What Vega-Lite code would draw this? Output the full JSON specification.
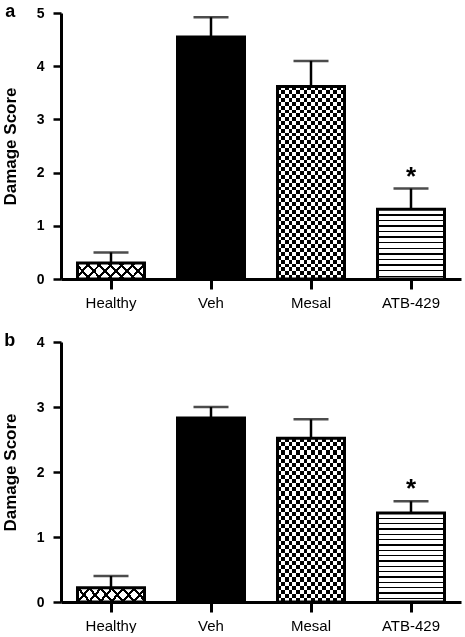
{
  "$schema": "https://vega.github.io/schema/vega-lite/v6.json",
  "padding": {"left": 1, "top": 3, "right": 2, "bottom": 0},
  "config": {
    "font": "Liberation Sans",
    "view": {"stroke": null},
    "axis": {"domainColor": "black", "tickColor": "black", "labelColor": "black", "titleColor": "black", "grid": false},
    "axisX": {"domainWidth": 3, "tickWidth": 3, "tickSize": 10, "labelPadding": 6, "labelFontSize": 15, "labelAngle": 0},
    "axisY": {"domainWidth": 3, "tickWidth": 2.5, "tickSize": 8, "labelPadding": 9, "labelFontSize": 14, "labelFontWeight": "bold", "titleFontSize": 17, "titleFontWeight": "bold", "titlePadding": 17},
    "concat": {"spacing": 22}
  },
  "data": {"values": [
    {"panel": "a", "group": "Healthy", "mean": 0.3, "upper": 0.5, "sig": null},
    {"panel": "a", "group": "Veh", "mean": 4.55, "upper": 4.92, "sig": null},
    {"panel": "a", "group": "Mesal", "mean": 3.62, "upper": 4.1, "sig": null},
    {"panel": "a", "group": "ATB-429", "mean": 1.31, "upper": 1.7, "sig": "*"},
    {"panel": "b", "group": "Healthy", "mean": 0.22, "upper": 0.4, "sig": null},
    {"panel": "b", "group": "Veh", "mean": 2.83, "upper": 3.0, "sig": null},
    {"panel": "b", "group": "Mesal", "mean": 2.52, "upper": 2.81, "sig": null},
    {"panel": "b", "group": "ATB-429", "mean": 1.37, "upper": 1.55, "sig": "*"}
  ]},
  "vconcat": [
    {
      "title": {"text": "a", "orient": "left", "angle": 0, "anchor": "end", "frame": "group", "align": "left", "baseline": "alphabetic", "fontSize": 18, "fontWeight": "bold", "offset": -14, "dy": 4, "color": "black"},
      "width": 400,
      "height": 266,
      "transform": [{"filter": "datum.panel === 'a'"}],
      "encoding": {
        "x": {"field": "group", "type": "nominal", "title": null, "scale": {"domain": ["Healthy", "Veh", "Mesal", "ATB-429"], "paddingInner": 0.33, "paddingOuter": 0.165}},
        "y": {"field": "mean", "type": "quantitative", "title": "Damage Score", "scale": {"domain": [0, 5], "nice": false}, "axis": {"values": [0, 1, 2, 3, 4, 5]}}
      },
      "layer": [
        {"transform": [{"filter": "datum.group === 'Healthy'"}], "mark": {"type": "bar", "fill": {"gradient": "linear", "x1": 0, "y1": 0, "x2": 1.267, "y2": 0.289, "stops": [{"offset":0,"color":"#000"},{"offset":0.032,"color":"#000"},{"offset":0.032,"color":"#fff"},{"offset":0.125,"color":"#fff"},{"offset":0.125,"color":"#000"},{"offset":0.157,"color":"#000"},{"offset":0.157,"color":"#fff"},{"offset":0.25,"color":"#fff"},{"offset":0.25,"color":"#000"},{"offset":0.282,"color":"#000"},{"offset":0.282,"color":"#fff"},{"offset":0.375,"color":"#fff"},{"offset":0.375,"color":"#000"},{"offset":0.407,"color":"#000"},{"offset":0.407,"color":"#fff"},{"offset":0.5,"color":"#fff"},{"offset":0.5,"color":"#000"},{"offset":0.532,"color":"#000"},{"offset":0.532,"color":"#fff"},{"offset":0.625,"color":"#fff"},{"offset":0.625,"color":"#000"},{"offset":0.657,"color":"#000"},{"offset":0.657,"color":"#fff"},{"offset":0.75,"color":"#fff"},{"offset":0.75,"color":"#000"},{"offset":0.782,"color":"#000"},{"offset":0.782,"color":"#fff"},{"offset":0.875,"color":"#fff"},{"offset":0.875,"color":"#000"},{"offset":0.907,"color":"#000"},{"offset":0.907,"color":"#fff"},{"offset":1,"color":"#fff"}]}}},
        {"transform": [{"filter": "datum.group === 'Healthy'"}], "mark": {"type": "bar", "blend": "multiply", "fill": {"gradient": "linear", "x1": 0, "y1": 1, "x2": 1.267, "y2": 0.711, "stops": [{"offset":0,"color":"#000"},{"offset":0.032,"color":"#000"},{"offset":0.032,"color":"#fff"},{"offset":0.125,"color":"#fff"},{"offset":0.125,"color":"#000"},{"offset":0.157,"color":"#000"},{"offset":0.157,"color":"#fff"},{"offset":0.25,"color":"#fff"},{"offset":0.25,"color":"#000"},{"offset":0.282,"color":"#000"},{"offset":0.282,"color":"#fff"},{"offset":0.375,"color":"#fff"},{"offset":0.375,"color":"#000"},{"offset":0.407,"color":"#000"},{"offset":0.407,"color":"#fff"},{"offset":0.5,"color":"#fff"},{"offset":0.5,"color":"#000"},{"offset":0.532,"color":"#000"},{"offset":0.532,"color":"#fff"},{"offset":0.625,"color":"#fff"},{"offset":0.625,"color":"#000"},{"offset":0.657,"color":"#000"},{"offset":0.657,"color":"#fff"},{"offset":0.75,"color":"#fff"},{"offset":0.75,"color":"#000"},{"offset":0.782,"color":"#000"},{"offset":0.782,"color":"#fff"},{"offset":0.875,"color":"#fff"},{"offset":0.875,"color":"#000"},{"offset":0.907,"color":"#000"},{"offset":0.907,"color":"#fff"},{"offset":1,"color":"#fff"}]}}},
        {"transform": [{"filter": "datum.group === 'Veh'"}], "mark": {"type": "bar", "fill": "#000"}},
        {"transform": [{"filter": "datum.group === 'Mesal'"}], "mark": {"type": "bar", "fill": {"gradient": "linear", "x1": 0, "y1": 0, "x2": 1, "y2": 0, "stops": [{"offset":0,"color":"#000"},{"offset":0.0556,"color":"#000"},{"offset":0.0556,"color":"#fff"},{"offset":0.1111,"color":"#fff"},{"offset":0.1111,"color":"#000"},{"offset":0.1667,"color":"#000"},{"offset":0.1667,"color":"#fff"},{"offset":0.2222,"color":"#fff"},{"offset":0.2222,"color":"#000"},{"offset":0.2778,"color":"#000"},{"offset":0.2778,"color":"#fff"},{"offset":0.3333,"color":"#fff"},{"offset":0.3333,"color":"#000"},{"offset":0.3889,"color":"#000"},{"offset":0.3889,"color":"#fff"},{"offset":0.4444,"color":"#fff"},{"offset":0.4444,"color":"#000"},{"offset":0.5,"color":"#000"},{"offset":0.5,"color":"#fff"},{"offset":0.5556,"color":"#fff"},{"offset":0.5556,"color":"#000"},{"offset":0.6111,"color":"#000"},{"offset":0.6111,"color":"#fff"},{"offset":0.6667,"color":"#fff"},{"offset":0.6667,"color":"#000"},{"offset":0.7222,"color":"#000"},{"offset":0.7222,"color":"#fff"},{"offset":0.7778,"color":"#fff"},{"offset":0.7778,"color":"#000"},{"offset":0.8333,"color":"#000"},{"offset":0.8333,"color":"#fff"},{"offset":0.8889,"color":"#fff"},{"offset":0.8889,"color":"#000"},{"offset":0.9444,"color":"#000"},{"offset":0.9444,"color":"#fff"},{"offset":1,"color":"#fff"}]}}},
        {"transform": [{"filter": "datum.group === 'Mesal'"}], "mark": {"type": "bar", "blend": "difference", "fill": {"gradient": "linear", "x1": 0, "y1": 0, "x2": 0, "y2": 1, "stops": [{"offset":0,"color":"#000"},{"offset":0.02,"color":"#000"},{"offset":0.02,"color":"#fff"},{"offset":0.04,"color":"#fff"},{"offset":0.04,"color":"#000"},{"offset":0.06,"color":"#000"},{"offset":0.06,"color":"#fff"},{"offset":0.08,"color":"#fff"},{"offset":0.08,"color":"#000"},{"offset":0.1,"color":"#000"},{"offset":0.1,"color":"#fff"},{"offset":0.12,"color":"#fff"},{"offset":0.12,"color":"#000"},{"offset":0.14,"color":"#000"},{"offset":0.14,"color":"#fff"},{"offset":0.16,"color":"#fff"},{"offset":0.16,"color":"#000"},{"offset":0.18,"color":"#000"},{"offset":0.18,"color":"#fff"},{"offset":0.2,"color":"#fff"},{"offset":0.2,"color":"#000"},{"offset":0.22,"color":"#000"},{"offset":0.22,"color":"#fff"},{"offset":0.24,"color":"#fff"},{"offset":0.24,"color":"#000"},{"offset":0.26,"color":"#000"},{"offset":0.26,"color":"#fff"},{"offset":0.28,"color":"#fff"},{"offset":0.28,"color":"#000"},{"offset":0.3,"color":"#000"},{"offset":0.3,"color":"#fff"},{"offset":0.32,"color":"#fff"},{"offset":0.32,"color":"#000"},{"offset":0.34,"color":"#000"},{"offset":0.34,"color":"#fff"},{"offset":0.36,"color":"#fff"},{"offset":0.36,"color":"#000"},{"offset":0.38,"color":"#000"},{"offset":0.38,"color":"#fff"},{"offset":0.4,"color":"#fff"},{"offset":0.4,"color":"#000"},{"offset":0.42,"color":"#000"},{"offset":0.42,"color":"#fff"},{"offset":0.44,"color":"#fff"},{"offset":0.44,"color":"#000"},{"offset":0.46,"color":"#000"},{"offset":0.46,"color":"#fff"},{"offset":0.48,"color":"#fff"},{"offset":0.48,"color":"#000"},{"offset":0.5,"color":"#000"},{"offset":0.5,"color":"#fff"},{"offset":0.52,"color":"#fff"},{"offset":0.52,"color":"#000"},{"offset":0.54,"color":"#000"},{"offset":0.54,"color":"#fff"},{"offset":0.56,"color":"#fff"},{"offset":0.56,"color":"#000"},{"offset":0.58,"color":"#000"},{"offset":0.58,"color":"#fff"},{"offset":0.6,"color":"#fff"},{"offset":0.6,"color":"#000"},{"offset":0.62,"color":"#000"},{"offset":0.62,"color":"#fff"},{"offset":0.64,"color":"#fff"},{"offset":0.64,"color":"#000"},{"offset":0.66,"color":"#000"},{"offset":0.66,"color":"#fff"},{"offset":0.68,"color":"#fff"},{"offset":0.68,"color":"#000"},{"offset":0.7,"color":"#000"},{"offset":0.7,"color":"#fff"},{"offset":0.72,"color":"#fff"},{"offset":0.72,"color":"#000"},{"offset":0.74,"color":"#000"},{"offset":0.74,"color":"#fff"},{"offset":0.76,"color":"#fff"},{"offset":0.76,"color":"#000"},{"offset":0.78,"color":"#000"},{"offset":0.78,"color":"#fff"},{"offset":0.8,"color":"#fff"},{"offset":0.8,"color":"#000"},{"offset":0.82,"color":"#000"},{"offset":0.82,"color":"#fff"},{"offset":0.84,"color":"#fff"},{"offset":0.84,"color":"#000"},{"offset":0.86,"color":"#000"},{"offset":0.86,"color":"#fff"},{"offset":0.88,"color":"#fff"},{"offset":0.88,"color":"#000"},{"offset":0.9,"color":"#000"},{"offset":0.9,"color":"#fff"},{"offset":0.92,"color":"#fff"},{"offset":0.92,"color":"#000"},{"offset":0.94,"color":"#000"},{"offset":0.94,"color":"#fff"},{"offset":0.96,"color":"#fff"},{"offset":0.96,"color":"#000"},{"offset":0.98,"color":"#000"},{"offset":0.98,"color":"#fff"},{"offset":1,"color":"#fff"}]}}},
        {"transform": [{"filter": "datum.group === 'ATB-429'"}], "mark": {"type": "bar", "fill": {"gradient": "linear", "x1": 0, "y1": 0, "x2": 0, "y2": 1, "stops": [{"offset":0,"color":"#fff"},{"offset":0.07,"color":"#fff"},{"offset":0.07,"color":"#000"},{"offset":0.09,"color":"#000"},{"offset":0.09,"color":"#fff"},{"offset":0.15,"color":"#fff"},{"offset":0.15,"color":"#000"},{"offset":0.17,"color":"#000"},{"offset":0.17,"color":"#fff"},{"offset":0.23,"color":"#fff"},{"offset":0.23,"color":"#000"},{"offset":0.25,"color":"#000"},{"offset":0.25,"color":"#fff"},{"offset":0.31,"color":"#fff"},{"offset":0.31,"color":"#000"},{"offset":0.33,"color":"#000"},{"offset":0.33,"color":"#fff"},{"offset":0.39,"color":"#fff"},{"offset":0.39,"color":"#000"},{"offset":0.41,"color":"#000"},{"offset":0.41,"color":"#fff"},{"offset":0.47,"color":"#fff"},{"offset":0.47,"color":"#000"},{"offset":0.49,"color":"#000"},{"offset":0.49,"color":"#fff"},{"offset":0.55,"color":"#fff"},{"offset":0.55,"color":"#000"},{"offset":0.57,"color":"#000"},{"offset":0.57,"color":"#fff"},{"offset":0.63,"color":"#fff"},{"offset":0.63,"color":"#000"},{"offset":0.65,"color":"#000"},{"offset":0.65,"color":"#fff"},{"offset":0.71,"color":"#fff"},{"offset":0.71,"color":"#000"},{"offset":0.73,"color":"#000"},{"offset":0.73,"color":"#fff"},{"offset":0.79,"color":"#fff"},{"offset":0.79,"color":"#000"},{"offset":0.81,"color":"#000"},{"offset":0.81,"color":"#fff"},{"offset":0.87,"color":"#fff"},{"offset":0.87,"color":"#000"},{"offset":0.89,"color":"#000"},{"offset":0.89,"color":"#fff"},{"offset":0.95,"color":"#fff"},{"offset":0.95,"color":"#000"},{"offset":0.97,"color":"#000"},{"offset":0.97,"color":"#fff"},{"offset":1,"color":"#fff"}]}}},
        {"mark": {"type": "bar", "fillOpacity": 0, "stroke": "#000", "strokeWidth": 3}},
        {"mark": {"type": "rule", "color": "#000", "strokeWidth": 2.5}, "encoding": {"y2": {"field": "upper"}}},
        {"mark": {"type": "tick", "color": "#000", "size": 35, "thickness": 2.5}, "encoding": {"y": {"field": "upper", "type": "quantitative", "title": "Damage Score"}}},
        {"transform": [{"filter": "datum.sig"}], "mark": {"type": "text", "fontSize": 26, "fontWeight": "bold", "baseline": "alphabetic", "dy": -4, "color": "#000"}, "encoding": {"y": {"field": "upper", "type": "quantitative", "title": "Damage Score"}, "text": {"field": "sig"}}}
      ]
    },
    {
      "title": {"text": "b", "orient": "left", "angle": 0, "anchor": "end", "frame": "group", "align": "left", "baseline": "alphabetic", "fontSize": 18, "fontWeight": "bold", "offset": -14, "dy": 4, "color": "black"},
      "width": 400,
      "height": 260,
      "transform": [{"filter": "datum.panel === 'b'"}],
      "encoding": {
        "x": {"field": "group", "type": "nominal", "title": null, "scale": {"domain": ["Healthy", "Veh", "Mesal", "ATB-429"], "paddingInner": 0.33, "paddingOuter": 0.165}},
        "y": {"field": "mean", "type": "quantitative", "title": "Damage Score", "scale": {"domain": [0, 4], "nice": false}, "axis": {"values": [0, 1, 2, 3, 4]}}
      },
      "layer": [
        {"transform": [{"filter": "datum.group === 'Healthy'"}], "mark": {"type": "bar", "fill": {"gradient": "linear", "x1": 0, "y1": 0, "x2": 1.2885, "y2": 0.2393, "stops": [{"offset":0,"color":"#000"},{"offset":0.032,"color":"#000"},{"offset":0.032,"color":"#fff"},{"offset":0.125,"color":"#fff"},{"offset":0.125,"color":"#000"},{"offset":0.157,"color":"#000"},{"offset":0.157,"color":"#fff"},{"offset":0.25,"color":"#fff"},{"offset":0.25,"color":"#000"},{"offset":0.282,"color":"#000"},{"offset":0.282,"color":"#fff"},{"offset":0.375,"color":"#fff"},{"offset":0.375,"color":"#000"},{"offset":0.407,"color":"#000"},{"offset":0.407,"color":"#fff"},{"offset":0.5,"color":"#fff"},{"offset":0.5,"color":"#000"},{"offset":0.532,"color":"#000"},{"offset":0.532,"color":"#fff"},{"offset":0.625,"color":"#fff"},{"offset":0.625,"color":"#000"},{"offset":0.657,"color":"#000"},{"offset":0.657,"color":"#fff"},{"offset":0.75,"color":"#fff"},{"offset":0.75,"color":"#000"},{"offset":0.782,"color":"#000"},{"offset":0.782,"color":"#fff"},{"offset":0.875,"color":"#fff"},{"offset":0.875,"color":"#000"},{"offset":0.907,"color":"#000"},{"offset":0.907,"color":"#fff"},{"offset":1,"color":"#fff"}]}}},
        {"transform": [{"filter": "datum.group === 'Healthy'"}], "mark": {"type": "bar", "blend": "multiply", "fill": {"gradient": "linear", "x1": 0, "y1": 1, "x2": 1.2885, "y2": 0.7607, "stops": [{"offset":0,"color":"#000"},{"offset":0.032,"color":"#000"},{"offset":0.032,"color":"#fff"},{"offset":0.125,"color":"#fff"},{"offset":0.125,"color":"#000"},{"offset":0.157,"color":"#000"},{"offset":0.157,"color":"#fff"},{"offset":0.25,"color":"#fff"},{"offset":0.25,"color":"#000"},{"offset":0.282,"color":"#000"},{"offset":0.282,"color":"#fff"},{"offset":0.375,"color":"#fff"},{"offset":0.375,"color":"#000"},{"offset":0.407,"color":"#000"},{"offset":0.407,"color":"#fff"},{"offset":0.5,"color":"#fff"},{"offset":0.5,"color":"#000"},{"offset":0.532,"color":"#000"},{"offset":0.532,"color":"#fff"},{"offset":0.625,"color":"#fff"},{"offset":0.625,"color":"#000"},{"offset":0.657,"color":"#000"},{"offset":0.657,"color":"#fff"},{"offset":0.75,"color":"#fff"},{"offset":0.75,"color":"#000"},{"offset":0.782,"color":"#000"},{"offset":0.782,"color":"#fff"},{"offset":0.875,"color":"#fff"},{"offset":0.875,"color":"#000"},{"offset":0.907,"color":"#000"},{"offset":0.907,"color":"#fff"},{"offset":1,"color":"#fff"}]}}},
        {"transform": [{"filter": "datum.group === 'Veh'"}], "mark": {"type": "bar", "fill": "#000"}},
        {"transform": [{"filter": "datum.group === 'Mesal'"}], "mark": {"type": "bar", "fill": {"gradient": "linear", "x1": 0, "y1": 0, "x2": 1, "y2": 0, "stops": [{"offset":0,"color":"#000"},{"offset":0.0556,"color":"#000"},{"offset":0.0556,"color":"#fff"},{"offset":0.1111,"color":"#fff"},{"offset":0.1111,"color":"#000"},{"offset":0.1667,"color":"#000"},{"offset":0.1667,"color":"#fff"},{"offset":0.2222,"color":"#fff"},{"offset":0.2222,"color":"#000"},{"offset":0.2778,"color":"#000"},{"offset":0.2778,"color":"#fff"},{"offset":0.3333,"color":"#fff"},{"offset":0.3333,"color":"#000"},{"offset":0.3889,"color":"#000"},{"offset":0.3889,"color":"#fff"},{"offset":0.4444,"color":"#fff"},{"offset":0.4444,"color":"#000"},{"offset":0.5,"color":"#000"},{"offset":0.5,"color":"#fff"},{"offset":0.5556,"color":"#fff"},{"offset":0.5556,"color":"#000"},{"offset":0.6111,"color":"#000"},{"offset":0.6111,"color":"#fff"},{"offset":0.6667,"color":"#fff"},{"offset":0.6667,"color":"#000"},{"offset":0.7222,"color":"#000"},{"offset":0.7222,"color":"#fff"},{"offset":0.7778,"color":"#fff"},{"offset":0.7778,"color":"#000"},{"offset":0.8333,"color":"#000"},{"offset":0.8333,"color":"#fff"},{"offset":0.8889,"color":"#fff"},{"offset":0.8889,"color":"#000"},{"offset":0.9444,"color":"#000"},{"offset":0.9444,"color":"#fff"},{"offset":1,"color":"#fff"}]}}},
        {"transform": [{"filter": "datum.group === 'Mesal'"}], "mark": {"type": "bar", "blend": "difference", "fill": {"gradient": "linear", "x1": 0, "y1": 0, "x2": 0, "y2": 1, "stops": [{"offset":0,"color":"#000"},{"offset":0.025,"color":"#000"},{"offset":0.025,"color":"#fff"},{"offset":0.05,"color":"#fff"},{"offset":0.05,"color":"#000"},{"offset":0.075,"color":"#000"},{"offset":0.075,"color":"#fff"},{"offset":0.1,"color":"#fff"},{"offset":0.1,"color":"#000"},{"offset":0.125,"color":"#000"},{"offset":0.125,"color":"#fff"},{"offset":0.15,"color":"#fff"},{"offset":0.15,"color":"#000"},{"offset":0.175,"color":"#000"},{"offset":0.175,"color":"#fff"},{"offset":0.2,"color":"#fff"},{"offset":0.2,"color":"#000"},{"offset":0.225,"color":"#000"},{"offset":0.225,"color":"#fff"},{"offset":0.25,"color":"#fff"},{"offset":0.25,"color":"#000"},{"offset":0.275,"color":"#000"},{"offset":0.275,"color":"#fff"},{"offset":0.3,"color":"#fff"},{"offset":0.3,"color":"#000"},{"offset":0.325,"color":"#000"},{"offset":0.325,"color":"#fff"},{"offset":0.35,"color":"#fff"},{"offset":0.35,"color":"#000"},{"offset":0.375,"color":"#000"},{"offset":0.375,"color":"#fff"},{"offset":0.4,"color":"#fff"},{"offset":0.4,"color":"#000"},{"offset":0.425,"color":"#000"},{"offset":0.425,"color":"#fff"},{"offset":0.45,"color":"#fff"},{"offset":0.45,"color":"#000"},{"offset":0.475,"color":"#000"},{"offset":0.475,"color":"#fff"},{"offset":0.5,"color":"#fff"},{"offset":0.5,"color":"#000"},{"offset":0.525,"color":"#000"},{"offset":0.525,"color":"#fff"},{"offset":0.55,"color":"#fff"},{"offset":0.55,"color":"#000"},{"offset":0.575,"color":"#000"},{"offset":0.575,"color":"#fff"},{"offset":0.6,"color":"#fff"},{"offset":0.6,"color":"#000"},{"offset":0.625,"color":"#000"},{"offset":0.625,"color":"#fff"},{"offset":0.65,"color":"#fff"},{"offset":0.65,"color":"#000"},{"offset":0.675,"color":"#000"},{"offset":0.675,"color":"#fff"},{"offset":0.7,"color":"#fff"},{"offset":0.7,"color":"#000"},{"offset":0.725,"color":"#000"},{"offset":0.725,"color":"#fff"},{"offset":0.75,"color":"#fff"},{"offset":0.75,"color":"#000"},{"offset":0.775,"color":"#000"},{"offset":0.775,"color":"#fff"},{"offset":0.8,"color":"#fff"},{"offset":0.8,"color":"#000"},{"offset":0.825,"color":"#000"},{"offset":0.825,"color":"#fff"},{"offset":0.85,"color":"#fff"},{"offset":0.85,"color":"#000"},{"offset":0.875,"color":"#000"},{"offset":0.875,"color":"#fff"},{"offset":0.9,"color":"#fff"},{"offset":0.9,"color":"#000"},{"offset":0.925,"color":"#000"},{"offset":0.925,"color":"#fff"},{"offset":0.95,"color":"#fff"},{"offset":0.95,"color":"#000"},{"offset":0.975,"color":"#000"},{"offset":0.975,"color":"#fff"},{"offset":1,"color":"#fff"}]}}},
        {"transform": [{"filter": "datum.group === 'ATB-429'"}], "mark": {"type": "bar", "fill": {"gradient": "linear", "x1": 0, "y1": 0, "x2": 0, "y2": 1, "stops": [{"offset":0,"color":"#fff"},{"offset":0.052,"color":"#fff"},{"offset":0.052,"color":"#000"},{"offset":0.068,"color":"#000"},{"offset":0.068,"color":"#fff"},{"offset":0.112,"color":"#fff"},{"offset":0.112,"color":"#000"},{"offset":0.128,"color":"#000"},{"offset":0.128,"color":"#fff"},{"offset":0.172,"color":"#fff"},{"offset":0.172,"color":"#000"},{"offset":0.188,"color":"#000"},{"offset":0.188,"color":"#fff"},{"offset":0.232,"color":"#fff"},{"offset":0.232,"color":"#000"},{"offset":0.248,"color":"#000"},{"offset":0.248,"color":"#fff"},{"offset":0.292,"color":"#fff"},{"offset":0.292,"color":"#000"},{"offset":0.308,"color":"#000"},{"offset":0.308,"color":"#fff"},{"offset":0.352,"color":"#fff"},{"offset":0.352,"color":"#000"},{"offset":0.368,"color":"#000"},{"offset":0.368,"color":"#fff"},{"offset":0.412,"color":"#fff"},{"offset":0.412,"color":"#000"},{"offset":0.428,"color":"#000"},{"offset":0.428,"color":"#fff"},{"offset":0.472,"color":"#fff"},{"offset":0.472,"color":"#000"},{"offset":0.488,"color":"#000"},{"offset":0.488,"color":"#fff"},{"offset":0.532,"color":"#fff"},{"offset":0.532,"color":"#000"},{"offset":0.548,"color":"#000"},{"offset":0.548,"color":"#fff"},{"offset":0.592,"color":"#fff"},{"offset":0.592,"color":"#000"},{"offset":0.608,"color":"#000"},{"offset":0.608,"color":"#fff"},{"offset":0.652,"color":"#fff"},{"offset":0.652,"color":"#000"},{"offset":0.668,"color":"#000"},{"offset":0.668,"color":"#fff"},{"offset":0.712,"color":"#fff"},{"offset":0.712,"color":"#000"},{"offset":0.728,"color":"#000"},{"offset":0.728,"color":"#fff"},{"offset":0.772,"color":"#fff"},{"offset":0.772,"color":"#000"},{"offset":0.788,"color":"#000"},{"offset":0.788,"color":"#fff"},{"offset":0.832,"color":"#fff"},{"offset":0.832,"color":"#000"},{"offset":0.848,"color":"#000"},{"offset":0.848,"color":"#fff"},{"offset":0.892,"color":"#fff"},{"offset":0.892,"color":"#000"},{"offset":0.908,"color":"#000"},{"offset":0.908,"color":"#fff"},{"offset":0.952,"color":"#fff"},{"offset":0.952,"color":"#000"},{"offset":0.968,"color":"#000"},{"offset":0.968,"color":"#fff"},{"offset":1,"color":"#fff"}]}}},
        {"mark": {"type": "bar", "fillOpacity": 0, "stroke": "#000", "strokeWidth": 3}},
        {"mark": {"type": "rule", "color": "#000", "strokeWidth": 2.5}, "encoding": {"y2": {"field": "upper"}}},
        {"mark": {"type": "tick", "color": "#000", "size": 35, "thickness": 2.5}, "encoding": {"y": {"field": "upper", "type": "quantitative", "title": "Damage Score"}}},
        {"transform": [{"filter": "datum.sig"}], "mark": {"type": "text", "fontSize": 26, "fontWeight": "bold", "baseline": "alphabetic", "dy": -4, "color": "#000"}, "encoding": {"y": {"field": "upper", "type": "quantitative", "title": "Damage Score"}, "text": {"field": "sig"}}}
      ]
    }
  ]
}
